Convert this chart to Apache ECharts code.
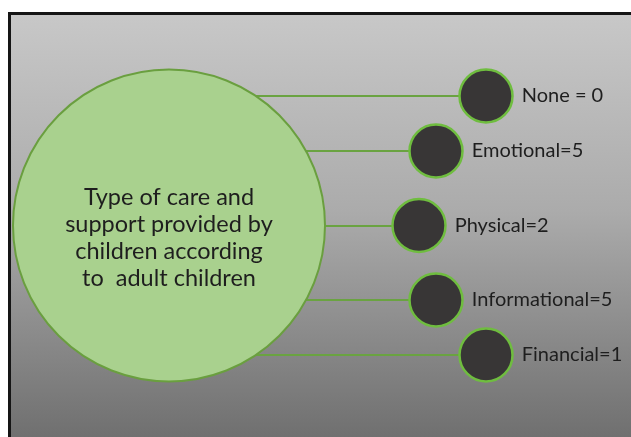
<!DOCTYPE html>
<html>
<head>
<meta charset="utf-8">
<script src="https://cdn.jsdelivr.net/npm/echarts@6/dist/echarts.min.js"></script>
<style>
html,body{margin:0;padding:0;background:#ffffff;}
#chart{width:631px;height:437px;}
</style>
</head>
<body>
<div id="chart"></div>
<script>
// ---- data ----
var centerTitle = ['Type of care and', 'support provided by', 'children according', 'to  adult children'];
var categories = ['None', 'Emotional', 'Physical', 'Informational', 'Financial'];
var counts = [0, 5, 2, 5, 1];
var labelJoin = [' = ', '=', '=', '=', '='];

// ---- layout (diagram positions in axis units) ----
var hubPos = [169, 225.5];
var nodeX = [486, 436, 419, 436, 486];
var nodeY = [96, 151, 225.5, 300, 355];

var chart = echarts.init(document.getElementById('chart'), null, {renderer: 'canvas'});

var FONT = 'Lato, "Open Sans", sans-serif';

var nodeData = categories.map(function (c, i) {
  return {value: [nodeX[i], nodeY[i]], name: c + labelJoin[i] + counts[i]};
});
var lineData = categories.map(function (c, i) {
  return {coords: [[hubPos[0], nodeY[i]], [nodeX[i], nodeY[i]]]};
});

var option = {
  animation: false,
  backgroundColor: '#ffffff',
  graphic: [{
    type: 'rect',
    z: -10,
    silent: true,
    shape: {x: 9.5, y: 13.5, width: 640, height: 440},
    style: {
      fill: new echarts.graphic.LinearGradient(0, 0, 0, 1, [
        {offset: 0, color: '#c8c8c8'},
        {offset: 0.45, color: '#ababab'},
        {offset: 1, color: '#6b6b6b'}
      ]),
      stroke: '#151515',
      lineWidth: 3
    }
  }],
  grid: {left: 0, right: 0, top: 0, bottom: 0, containLabel: false},
  xAxis: {type: 'value', min: 0, max: 631, show: false},
  yAxis: {type: 'value', min: 0, max: 437, inverse: true, show: false},
  series: [
    {
      type: 'lines',
      coordinateSystem: 'cartesian2d',
      z: 1,
      silent: true,
      lineStyle: {color: '#6aa341', width: 2, opacity: 1},
      data: lineData
    },
    {
      type: 'scatter',
      z: 3,
      silent: true,
      symbol: 'circle',
      symbolSize: 312,
      itemStyle: {color: '#a9d18e', borderColor: '#6a9f3f', borderWidth: 2, opacity: 1},
      label: {
        show: true,
        position: 'inside',
        formatter: centerTitle.join('\n'),
        fontFamily: FONT,
        fontSize: 23.5,
        lineHeight: 27,
        color: '#1e1e1e',
        align: 'center',
        offset: [0, 12]
      },
      data: [hubPos]
    },
    {
      type: 'scatter',
      z: 4,
      silent: true,
      symbol: 'circle',
      symbolSize: 53,
      itemStyle: {color: '#383636', borderColor: '#6fbd3f', borderWidth: 2.5, opacity: 1},
      label: {
        show: true,
        position: 'right',
        distance: 8,
        formatter: '{b}',
        fontFamily: FONT,
        fontSize: 20,
        color: '#1e1e1e'
      },
      data: nodeData
    }
  ]
};
chart.setOption(option);
</script>
</body>
</html>
